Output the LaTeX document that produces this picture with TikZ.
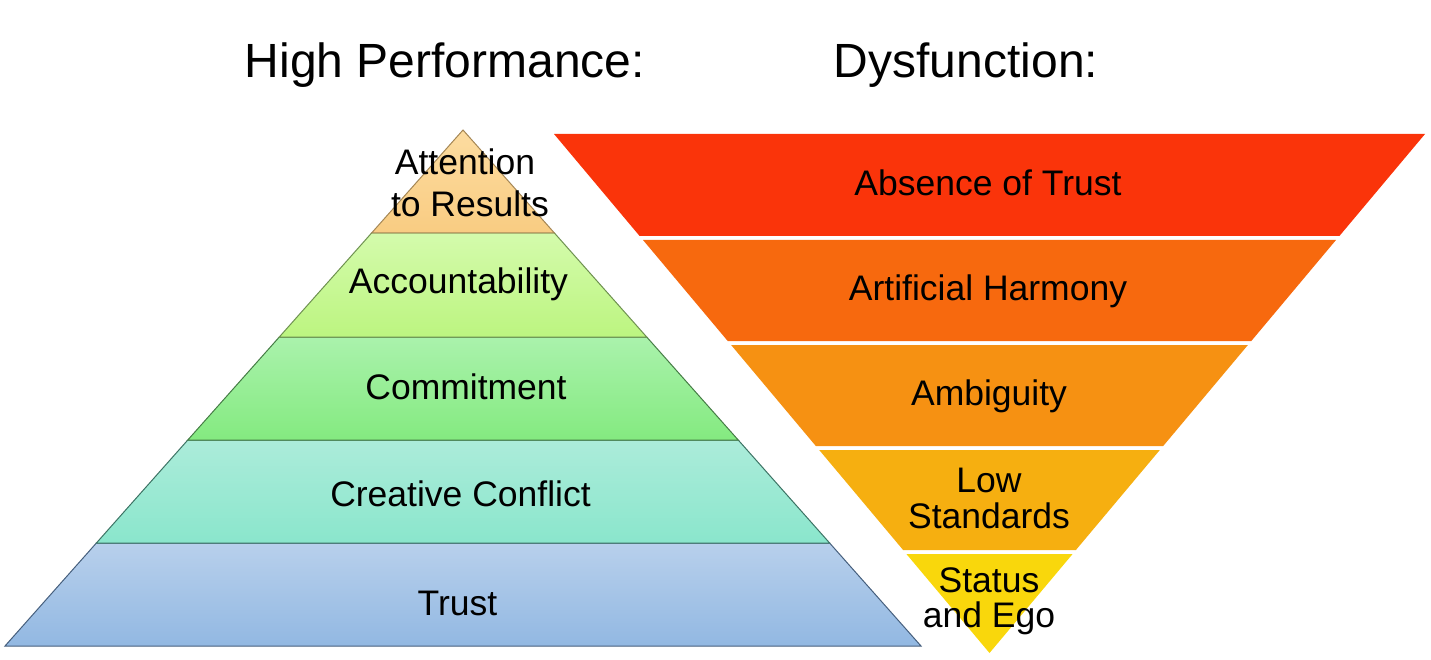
\documentclass[tikz,border=0pt]{standalone}
\usepackage{fontspec}
\setmainfont{Liberation Sans}

\definecolor{attnA}{RGB}{252,220,160}
\definecolor{attnB}{RGB}{249,204,130}
\definecolor{accA}{RGB}{212,251,172}
\definecolor{accB}{RGB}{188,245,128}
\definecolor{comA}{RGB}{170,242,172}
\definecolor{comB}{RGB}{132,234,128}
\definecolor{ccA}{RGB}{172,236,218}
\definecolor{ccB}{RGB}{138,230,204}
\definecolor{trA}{RGB}{184,208,236}
\definecolor{trB}{RGB}{146,184,226}
\definecolor{absC}{RGB}{250,52,10}
\definecolor{harmC}{RGB}{247,105,14}
\definecolor{ambC}{RGB}{246,145,18}
\definecolor{lowC}{RGB}{246,175,16}
\definecolor{egoC}{RGB}{249,215,12}

\begin{document}
\begin{tikzpicture}[x=1pt,y=-1pt,
	layer/.style={line width=1pt},
	lbl/.style={font=\fontsize{35.5}{36}\selectfont,anchor=base,align=center,inner sep=0pt},
	headline/.style={font=\fontsize{48}{57}\selectfont,anchor=base,inner sep=0pt}]
	\useasboundingbox (0,0) rectangle (1431,660);
	
	\node[headline] (hp)  at (445,78) {High Performance:};
	\node[headline] (dys) at (966,78) {Dysfunction:};
	
	% high performance pyramid
	\draw[layer,draw={rgb,255:red,70;green,95;blue,125},top color=trA,bottom color=trB]
		(96.4,543) -- (829.6,543) -- (921,646) -- (5,646) -- cycle;
	\draw[layer,draw={rgb,255:red,60;green,115;blue,100},top color=ccA,bottom color=ccB]
		(187.8,440) -- (738.2,440) -- (829.6,543) -- (96.4,543) -- cycle;
	\draw[layer,draw={rgb,255:red,70;green,125;blue,70},top color=comA,bottom color=comB]
		(279.3,337) -- (646.7,337) -- (738.2,440) -- (187.8,440) -- cycle;
	\draw[layer,draw={rgb,255:red,110;green,145;blue,80},top color=accA,bottom color=accB]
		(371.6,233) -- (554.4,233) -- (646.7,337) -- (279.3,337) -- cycle;
	\draw[layer,draw={rgb,255:red,165;green,135;blue,85},top color=attnA,bottom color=attnB]
		(463,130) -- (554.4,233) -- (371.6,233) -- cycle;
	
	% base of a two-line node is its last line
	\node[lbl,font=\fontsize{35.5}{42}\selectfont] (attn) at (465,217) {Attention\\\ to Results};
	\node[lbl] (acc)   at (458.5,293) {Accountability};
	\node[lbl] (com)   at (466,399) {Commitment};
	\node[lbl] (cc)    at (460.5,506) {Creative Conflict};
	\node[lbl] (trust) at (457.5,615) {Trust};
	
	% dysfunction pyramid
	\fill[absC]  (554,134) -- (1425,134) -- (1339.4,236) -- (639.6,236) -- cycle;
	\fill[harmC] (643,240) -- (1336,240) -- (1251.3,341) -- (727.7,341) -- cycle;
	\fill[ambC]  (731.1,345) -- (1247.9,345) -- (1163.2,446) -- (815.8,446) -- cycle;
	\fill[lowC]  (819.2,450) -- (1159.8,450) -- (1075.9,550) -- (903.1,550) -- cycle;
	\fill[egoC]  (906.4,554) -- (1072.6,554) -- (989.5,653) -- cycle;
	
	\node[lbl] (abs)  at (988,196) {Absence of Trust};
	\node[lbl] (harm) at (988,300) {Artificial Harmony};
	\node[lbl] (amb)  at (989,405) {Ambiguity};
	\node[lbl] (low)  at (989,528) {Low\\Standards};
	\node[lbl,font=\fontsize{35.5}{35}\selectfont] (ego) at (989,627) {Status\\and Ego};
\end{tikzpicture}
\end{document}
